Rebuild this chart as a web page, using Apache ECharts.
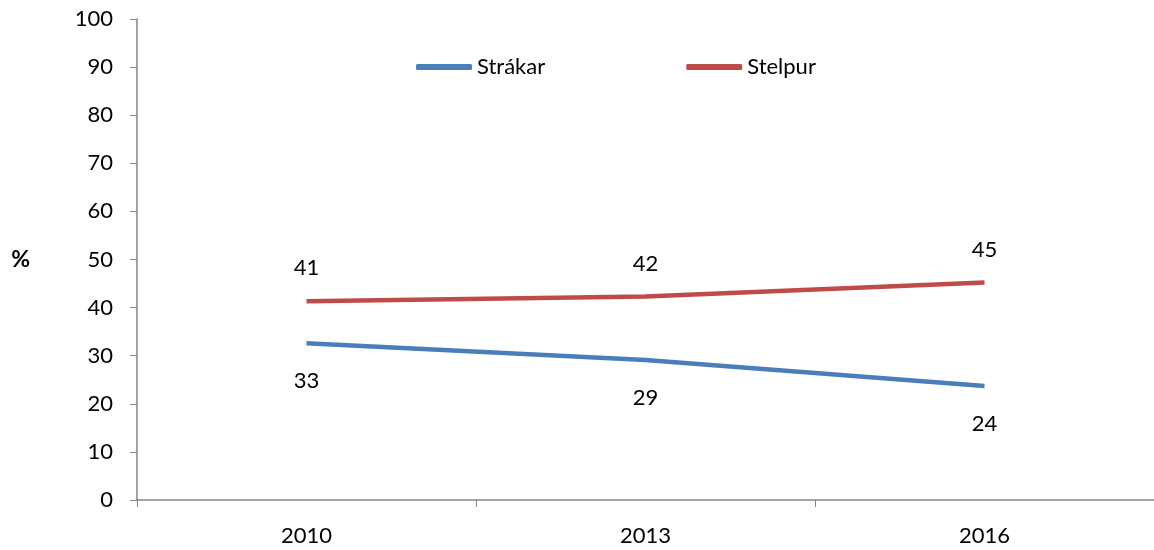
<!DOCTYPE html>
<html>
<head>
<meta charset="utf-8">
<script src="https://cdn.jsdelivr.net/npm/echarts@6/dist/echarts.min.js"></script>
<style>
  html, body { margin: 0; padding: 0; background: #fff; }
  #chart { width: 1154px; height: 550px; }
</style>
</head>
<body>
<div id="chart"></div>
<script>
var years = ['2010', '2013', '2016'];
var strakar = [32.6, 29.1, 23.7];
var stelpur = [41.3, 42.3, 45.2];

var chart = echarts.init(document.getElementById('chart'));
var font = 'Lato, "Open Sans", sans-serif';
var axisColor = '#868686';

function roundLabel(p) {
  return Math.round(p.value);
}

chart.setOption({
  animation: false,
  textStyle: { fontFamily: font },
  grid: { left: 137, right: -2, top: 19, bottom: 50 },
  legend: {
    left: 411,
    top: 51,
    itemWidth: 56,
    itemHeight: 6,
    itemGap: 141,
    icon: 'roundRect',
    textStyle: { fontSize: 22, color: '#000', fontFamily: font },
    data: ['Strákar', 'Stelpur']
  },
  xAxis: {
    type: 'category',
    data: years,
    boundaryGap: true,
    axisLine: { lineStyle: { color: axisColor, width: 1.5 } },
    axisTick: { show: true, length: 7, inside: false, lineStyle: { color: axisColor } },
    axisLabel: { fontSize: 22, color: '#000', margin: 25 }
  },
  yAxis: {
    type: 'value',
    min: 0,
    max: 100,
    interval: 10,
    name: '%',
    nameLocation: 'middle',
    nameRotate: 0,
    nameGap: 107,
    nameTextStyle: { fontSize: 23, fontWeight: 'bold', color: '#000' },
    splitLine: { show: false },
    axisLine: { show: true, lineStyle: { color: axisColor, width: 1.5 } },
    axisTick: { show: true, length: 7, lineStyle: { color: axisColor } },
    axisLabel: { fontSize: 22, color: '#000', margin: 24 }
  },
  series: [
    {
      name: 'Strákar',
      type: 'line',
      data: strakar,
      symbol: 'circle',
      symbolSize: 0,
      color: '#4a7ebb',
      lineStyle: { width: 4.5, color: '#4a7ebb' },
      label: {
        show: true, position: 'bottom', distance: 27,
        fontSize: 22, color: '#000', formatter: roundLabel
      }
    },
    {
      name: 'Stelpur',
      type: 'line',
      data: stelpur,
      symbol: 'circle',
      symbolSize: 0,
      color: '#be4b48',
      lineStyle: { width: 4.5, color: '#be4b48' },
      label: {
        show: true, position: 'top', distance: 22,
        fontSize: 22, color: '#000', formatter: roundLabel
      }
    }
  ]
});
</script>
</body>
</html>
